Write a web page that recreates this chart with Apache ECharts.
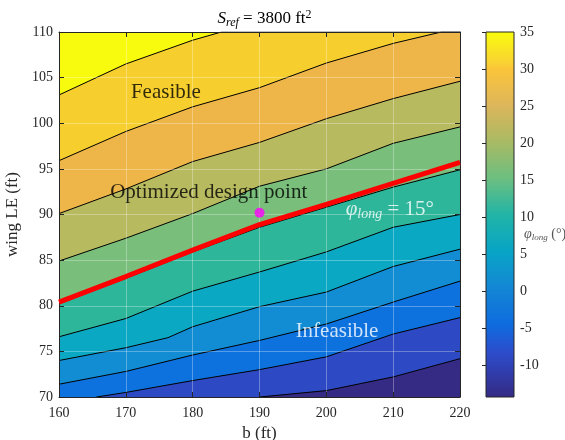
<!DOCTYPE html>
<html>
<head>
<meta charset="utf-8">
<script src="https://cdn.jsdelivr.net/npm/echarts@6/dist/echarts.min.js"></script>
<style>
  html, body { margin: 0; padding: 0; background: #fff; }
  #chart { width: 565px; height: 440px; }
</style>
</head>
<body>
<div id="chart"></div>
<script>
// contour lines of phi_long, points are [b (ft), wing LE (ft)]
const levels = [35, 30, 25, 20, 15, 10, 5, 0, -5, -10];
const c35 = [[160, 103.1], [170, 106.5], [180, 109.1], [184.3, 110], [220, 110]];
const c30 = [[160, 95.9], [170, 99.1], [180, 101.8], [190, 103.9], [200, 106.6], [210, 108.75], [217.2, 110], [220, 110]];
const c25 = [[160, 90.1], [170, 92.8], [180, 95.8], [190, 97.9], [200, 100.5], [210, 102.7], [220, 104.6]];
const c20 = [[160, 84.9], [170, 87.4], [180, 90.1], [190, 93.1], [200, 95.0], [210, 97.8], [220, 99.6]];
const c15 = [[160, 80.3], [170, 83.0], [180, 85.9], [190, 88.6], [200, 90.8], [210, 93.0], [220, 94.9]];
const c10 = [[160, 76.6], [170, 78.6], [180, 81.6], [190, 83.7], [200, 85.9], [210, 88.6], [220, 90.0]];
const c5 = [[160, 74.0], [170, 75.4], [176.3, 76.5], [180, 77.7], [190, 79.9], [200, 81.5], [210, 84.3], [220, 86.2]];
const c0 = [[160, 71.4], [170, 72.8], [180, 74.6], [190, 76.2], [200, 78.0], [210, 80.4], [220, 82.7]];
const cm5 = [[165.6, 70], [170, 70.5], [180, 71.8], [190, 73.0], [200, 74.4], [210, 76.9], [220, 78.7]];
const cm10 = [[190, 70], [200, 70.7], [210, 72.2], [220, 74.2]];
const contours = [c35, c30, c25, c20, c15, c10, c5, c0, cm5, cm10];

// the phi_long = 15 deg constraint (red) and the optimum
const constraint15 = [[160, 80.4], [170, 83.2], [180, 86.1], [190, 88.9], [200, 91.1], [210, 93.4], [220, 95.7]];
const optimum = [[190, 90.2]];

const cbarTicks = [-10, -5, 0, 5, 10, 15, 20, 25, 30, 35];
const cbarMin = -14.3, cbarMax = 35;

// colours: band above the top line, then the band under each line
const topColor = '#F9FB0E';
const bandColors = ['#F6CF2F', '#EEB548', '#B8BA60', '#79BE7A', '#2EB69A',
                    '#0AA8C2', '#128CD2', '#0D72DE', '#2D4AC4', '#352A84'];
const cbarStops = [
  [0, '#F9FB0E'], [0.08, '#F9D530'], [0.1, '#FBC53A'], [0.2, '#DDB65A'],
  [0.3, '#A9BA64'], [0.4, '#6DBF80'], [0.5, '#22B4A6'], [0.6, '#07A5C6'],
  [0.7, '#1487D4'], [0.8, '#0E6CDF'], [0.88, '#2D4CCB'], [1, '#352A84']
];

const serif = 'Liberation Serif';
const ink = '#262626';

const notes = [
  { name: 'Feasible', value: [176.0, 103.4], color: '#000' },
  { name: 'Optimized design point', value: [182.4, 92.4], color: '#000' },
  { name: '{v|φ}{s|long}{n| = 15°}', value: [209.5, 90.6], color: '#fff' },
  { name: 'Infeasible', value: [201.6, 77.2], color: '#fff' }
];

const chart = echarts.init(document.getElementById('chart'), null, { renderer: 'canvas' });

const mainAxisCommon = {
  type: 'value',
  z: 10,
  axisLine: { show: true, lineStyle: { color: ink, width: 1 } },
  axisTick: { show: true, inside: true, length: 5, lineStyle: { color: ink } },
};

const option = {
  animation: false,
  title: [
    {
      text: '{i|S}{sub|ref}{n| = 3800 ft}{sup|2}',
      left: 259.5, top: 4, textAlign: 'center',
      textStyle: {
        fontWeight: 'normal',
        rich: {
          i: { fontFamily: serif, fontStyle: 'italic', fontWeight: 'normal', fontSize: 17, color: '#000', lineHeight: 20 },
          sub: { fontFamily: serif, fontStyle: 'italic', fontWeight: 'normal', fontSize: 12, color: '#000', lineHeight: 12, verticalAlign: 'bottom' },
          n: { fontFamily: serif, fontWeight: 'normal', fontSize: 17, color: '#000', lineHeight: 20 },
          sup: { fontFamily: serif, fontWeight: 'normal', fontSize: 12, color: '#000', lineHeight: 12, verticalAlign: 'top' }
        }
      }
    },
    {
      text: '{v|φ}{s|long}{n| (°)}',
      left: 519, top: 221,
      textStyle: {
        fontWeight: 'normal',
        rich: {
          v: { fontFamily: serif, fontStyle: 'italic', fontWeight: 'normal', fontSize: 14, color: '#555', lineHeight: 16 },
          s: { fontFamily: serif, fontStyle: 'italic', fontWeight: 'normal', fontSize: 9, color: '#555', lineHeight: 9, verticalAlign: 'bottom' },
          n: { fontFamily: serif, fontWeight: 'normal', fontSize: 14, color: '#555', lineHeight: 16 }
        }
      }
    }
  ],
  grid: [
    { left: 59, right: 105, top: 32, bottom: 43, outerBoundsMode: 'none', containLabel: false,
      show: true, backgroundColor: topColor, borderWidth: 0 },
    { left: 486, width: 28, top: 32, bottom: 43, outerBoundsMode: 'none', containLabel: false,
      show: true, z: 10, backgroundColor: 'transparent', borderColor: ink, borderWidth: 1 }
  ],
  xAxis: [
    Object.assign({}, mainAxisCommon, {
      gridIndex: 0, position: 'bottom', min: 160, max: 220, interval: 10,
      name: 'b (ft)', nameLocation: 'middle', nameGap: 26,
      nameTextStyle: { fontFamily: serif, fontWeight: 'normal', fontSize: 17, color: ink },
      axisLabel: { fontFamily: serif, fontSize: 14, color: ink, margin: 9 },
      splitLine: { show: true, lineStyle: { color: 'rgba(255,255,255,0.3)', width: 1 } }
    }),
    Object.assign({}, mainAxisCommon, {
      gridIndex: 0, position: 'top', min: 160, max: 220, interval: 10,
      axisLabel: { show: false }, splitLine: { show: false }
    }),
    { type: 'value', gridIndex: 1, min: 0, max: 1, show: false }
  ],
  yAxis: [
    Object.assign({}, mainAxisCommon, {
      gridIndex: 0, position: 'left', min: 70, max: 110, interval: 5,
      name: 'wing LE (ft)', nameLocation: 'middle', nameGap: 26, nameRotate: 90,
      nameTextStyle: { fontFamily: serif, fontWeight: 'normal', fontSize: 17, color: ink },
      axisLabel: { fontFamily: serif, fontSize: 14, color: ink, margin: 6 },
      splitLine: { show: true, lineStyle: { color: 'rgba(255,255,255,0.3)', width: 1 } }
    }),
    Object.assign({}, mainAxisCommon, {
      gridIndex: 0, position: 'right', min: 70, max: 110, interval: 5,
      axisLabel: { show: false }, splitLine: { show: false }
    }),
    {
      type: 'value', gridIndex: 1, position: 'right', min: cbarMin, max: cbarMax, z: 11,
      axisLine: { show: false },
      axisTick: { show: true, inside: true, length: 4, lineStyle: { color: ink }, customValues: cbarTicks },
      axisLabel: { fontFamily: serif, fontSize: 14, color: ink, margin: 6, customValues: cbarTicks },
      splitLine: { show: false }
    }
  ],
  series: [
    ...levels.map((lv, i) => ({
      type: 'line',
      name: 'phi_long ' + lv,
      xAxisIndex: 0, yAxisIndex: 0,
      data: contours[i],
      symbol: 'none',
      silent: true,
      z: 2,
      lineStyle: { color: '#000', width: 1 },
      areaStyle: { color: bandColors[i], opacity: 1, origin: 'start' }
    })),
    {
      type: 'line',
      name: 'constraint',
      xAxisIndex: 0, yAxisIndex: 0,
      data: constraint15,
      symbol: 'none',
      silent: true,
      z: 20,
      lineStyle: { color: '#FF0000', width: 5 }
    },
    {
      type: 'scatter',
      name: 'optimum',
      xAxisIndex: 0, yAxisIndex: 0,
      data: optimum,
      symbol: 'circle',
      symbolSize: 10,
      z: 21,
      itemStyle: { color: '#FF00FF' }
    },
    {
      type: 'scatter',
      name: 'notes',
      xAxisIndex: 0, yAxisIndex: 0,
      data: notes.map((n) => ({ name: n.name, value: n.value, label: { color: n.color } })),
      symbolSize: 0,
      silent: true,
      z: 22,
      label: {
        show: true,
        position: 'inside',
        formatter: (p) => p.name,
        fontFamily: serif,
        fontSize: 21,
        rich: {
          v: { fontFamily: serif, fontStyle: 'italic', fontSize: 21, color: '#fff', lineHeight: 24 },
          s: { fontFamily: serif, fontStyle: 'italic', fontSize: 14, color: '#fff', lineHeight: 14, verticalAlign: 'bottom' },
          n: { fontFamily: serif, fontSize: 21, color: '#fff', lineHeight: 24 }
        }
      }
    },
    {
      // colour bar
      type: 'line',
      name: 'colorbar',
      xAxisIndex: 2, yAxisIndex: 2,
      data: [[0, cbarMax], [1, cbarMax]],
      symbol: 'none',
      silent: true,
      z: 2,
      lineStyle: { width: 0 },
      areaStyle: {
        opacity: 1,
        origin: 'start',
        color: new echarts.graphic.LinearGradient(0, 0, 0, 1,
          cbarStops.map(([offset, color]) => ({ offset, color })))
      }
    }
  ]
};

chart.setOption(option);
</script>
</body>
</html>
